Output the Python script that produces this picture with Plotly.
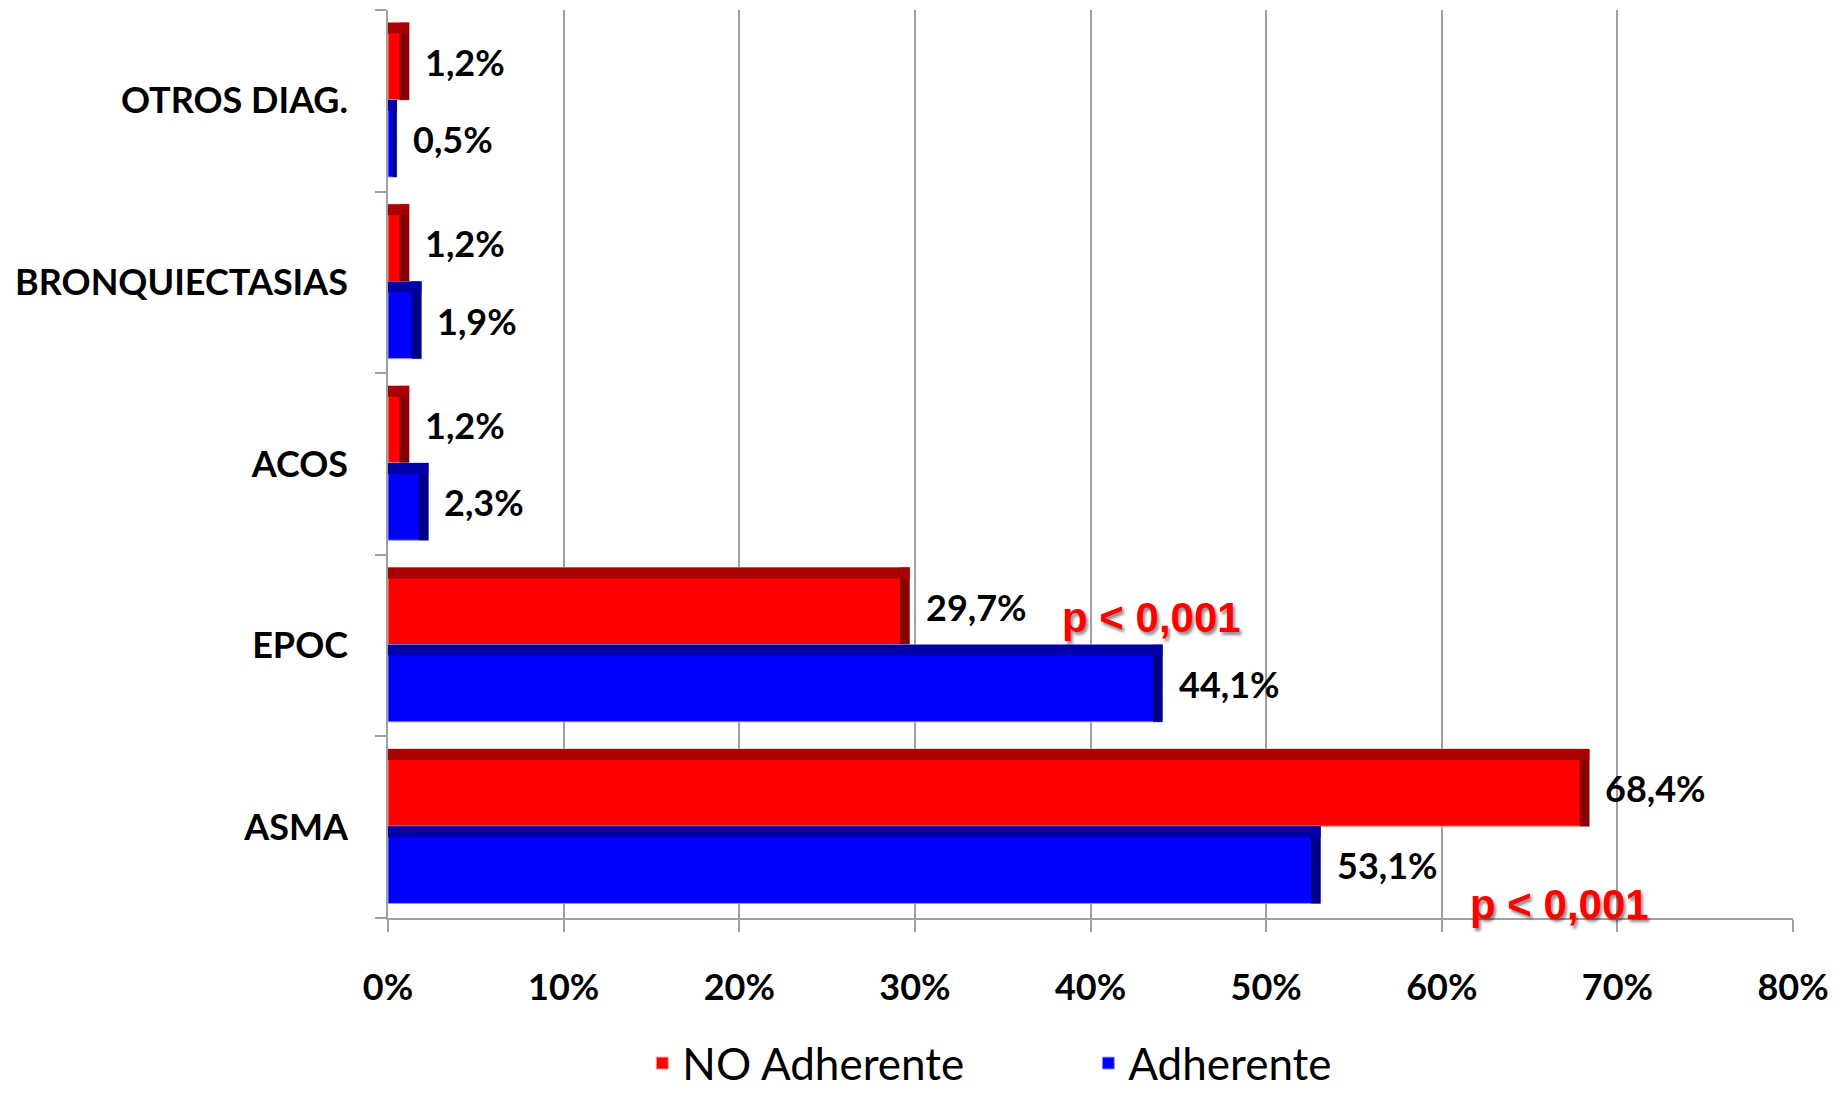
import plotly.graph_objects as go

# Diagnósticos (de abajo hacia arriba en el eje)
categorias = ["ASMA", "EPOC", "ACOS", "BRONQUIECTASIAS", "OTROS DIAG."]
no_adherente = [68.4, 29.7, 1.2, 1.2, 1.2]
adherente = [53.1, 44.1, 2.3, 1.9, 0.5]
etiquetas_x = ["0%", "10%", "20%", "30%", "40%", "50%", "60%", "70%", "80%"]
valores_x = [0, 10, 20, 30, 40, 50, 60, 70, 80]
p_texto = "p < 0,001"

FONT = "Lato, Carlito, Calibri, sans-serif"
BAR_W = 0.425
TOP_BAND = 0.06
END_BAND = 0.55

series = [
    # nombre, valores, color, borde, banda superior, banda final, desplazamiento
    ("NO Adherente", no_adherente, "#FF0000", "#FF9C9C", "#A80000", "#860000", 0.005),
    ("Adherente", adherente, "#0000FF", "#9C9CFF", "#0000A8", "#000086", -0.42),
]

fig = go.Figure()
for rank, (name, vals, color, edge, top_c, end_c, off) in enumerate(series):
    # cuerpo de la barra
    fig.add_trace(go.Bar(
        name=name, y=categorias, x=vals, orientation="h",
        offset=off, width=BAR_W,
        marker=dict(color=color, line=dict(color=edge, width=1)),
        legendrank=rank + 1, hoverinfo="x+name",
    ))
    # extremo oscurecido (efecto biselado)
    ends = [min(END_BAND, v * 0.45) for v in vals]
    fig.add_trace(go.Bar(
        y=categorias, x=ends, base=[v - e for v, e in zip(vals, ends)],
        orientation="h", offset=off, width=BAR_W,
        marker=dict(color=end_c, line=dict(width=0)),
        showlegend=False, hoverinfo="skip",
    ))
    # franja superior oscurecida
    fig.add_trace(go.Bar(
        y=categorias, x=vals, orientation="h",
        offset=off + BAR_W - TOP_BAND, width=TOP_BAND,
        marker=dict(color=top_c, line=dict(width=0)),
        showlegend=False, hoverinfo="skip",
    ))

annotations = []
# etiquetas de valor a la derecha de cada barra
for i, cat in enumerate(categorias):
    for vals, dy in ((no_adherente, 0.215), (adherente, -0.21)):
        v = vals[i]
        annotations.append(dict(
            x=v, y=i + dy, xref="x", yref="y",
            text=f"{v:.1f}%".replace(".", ","),
            xanchor="left", yanchor="middle", xshift=14, showarrow=False,
            font=dict(family=FONT, size=36, color="#000000", weight="bold"),
        ))

# significación estadística
for px, py in ((43.45, 1.157), (66.7, -0.423)):
    annotations.append(dict(
        x=px, y=py, xref="x", yref="y", text=p_texto, showarrow=False,
        xanchor="center", yanchor="middle",
        font=dict(family="Liberation Sans, Arial, sans-serif", size=42,
                  color="#FF0000", weight="bold",
                  shadow="2px 3px 3px rgba(0,0,0,0.45)"),
    ))

fig.update_layout(
    width=1845, height=1093,
    margin=dict(l=388, r=52, t=10, b=175),
    barmode="overlay",
    paper_bgcolor="white", plot_bgcolor="white",
    font=dict(family=FONT, color="#000000"),
    annotations=annotations,
    showlegend=True,
    legend=dict(
        orientation="h", x=0.181, xanchor="left", y=0.027, yanchor="middle",
        yref="container", entrywidth=401,
        font=dict(family=FONT, size=44, color="#000000"),
    ),
    xaxis=dict(
        range=[0, 80], tickvals=valores_x, ticktext=etiquetas_x,
        showgrid=True, gridcolor="#A0A0A0", gridwidth=1.5,
        showline=True, linecolor="#A0A0A0", linewidth=1.5,
        ticks="outside", ticklen=12, tickcolor="#A0A0A0", tickwidth=1.5,
        ticklabelstandoff=25, zeroline=False,
        tickfont=dict(family=FONT, size=36, weight="bold"),
    ),
    yaxis=dict(
        type="category", categoryorder="array", categoryarray=categorias,
        range=[-0.5, 4.5], showgrid=False,
        showline=True, linecolor="#A0A0A0", linewidth=1.5,
        ticks="outside", tickson="boundaries", ticklen=11,
        tickcolor="#A0A0A0", tickwidth=1.5, ticklabelstandoff=31,
        tickfont=dict(family=FONT, size=36, weight="bold"),
    ),
)

fig.write_html("out.html")
